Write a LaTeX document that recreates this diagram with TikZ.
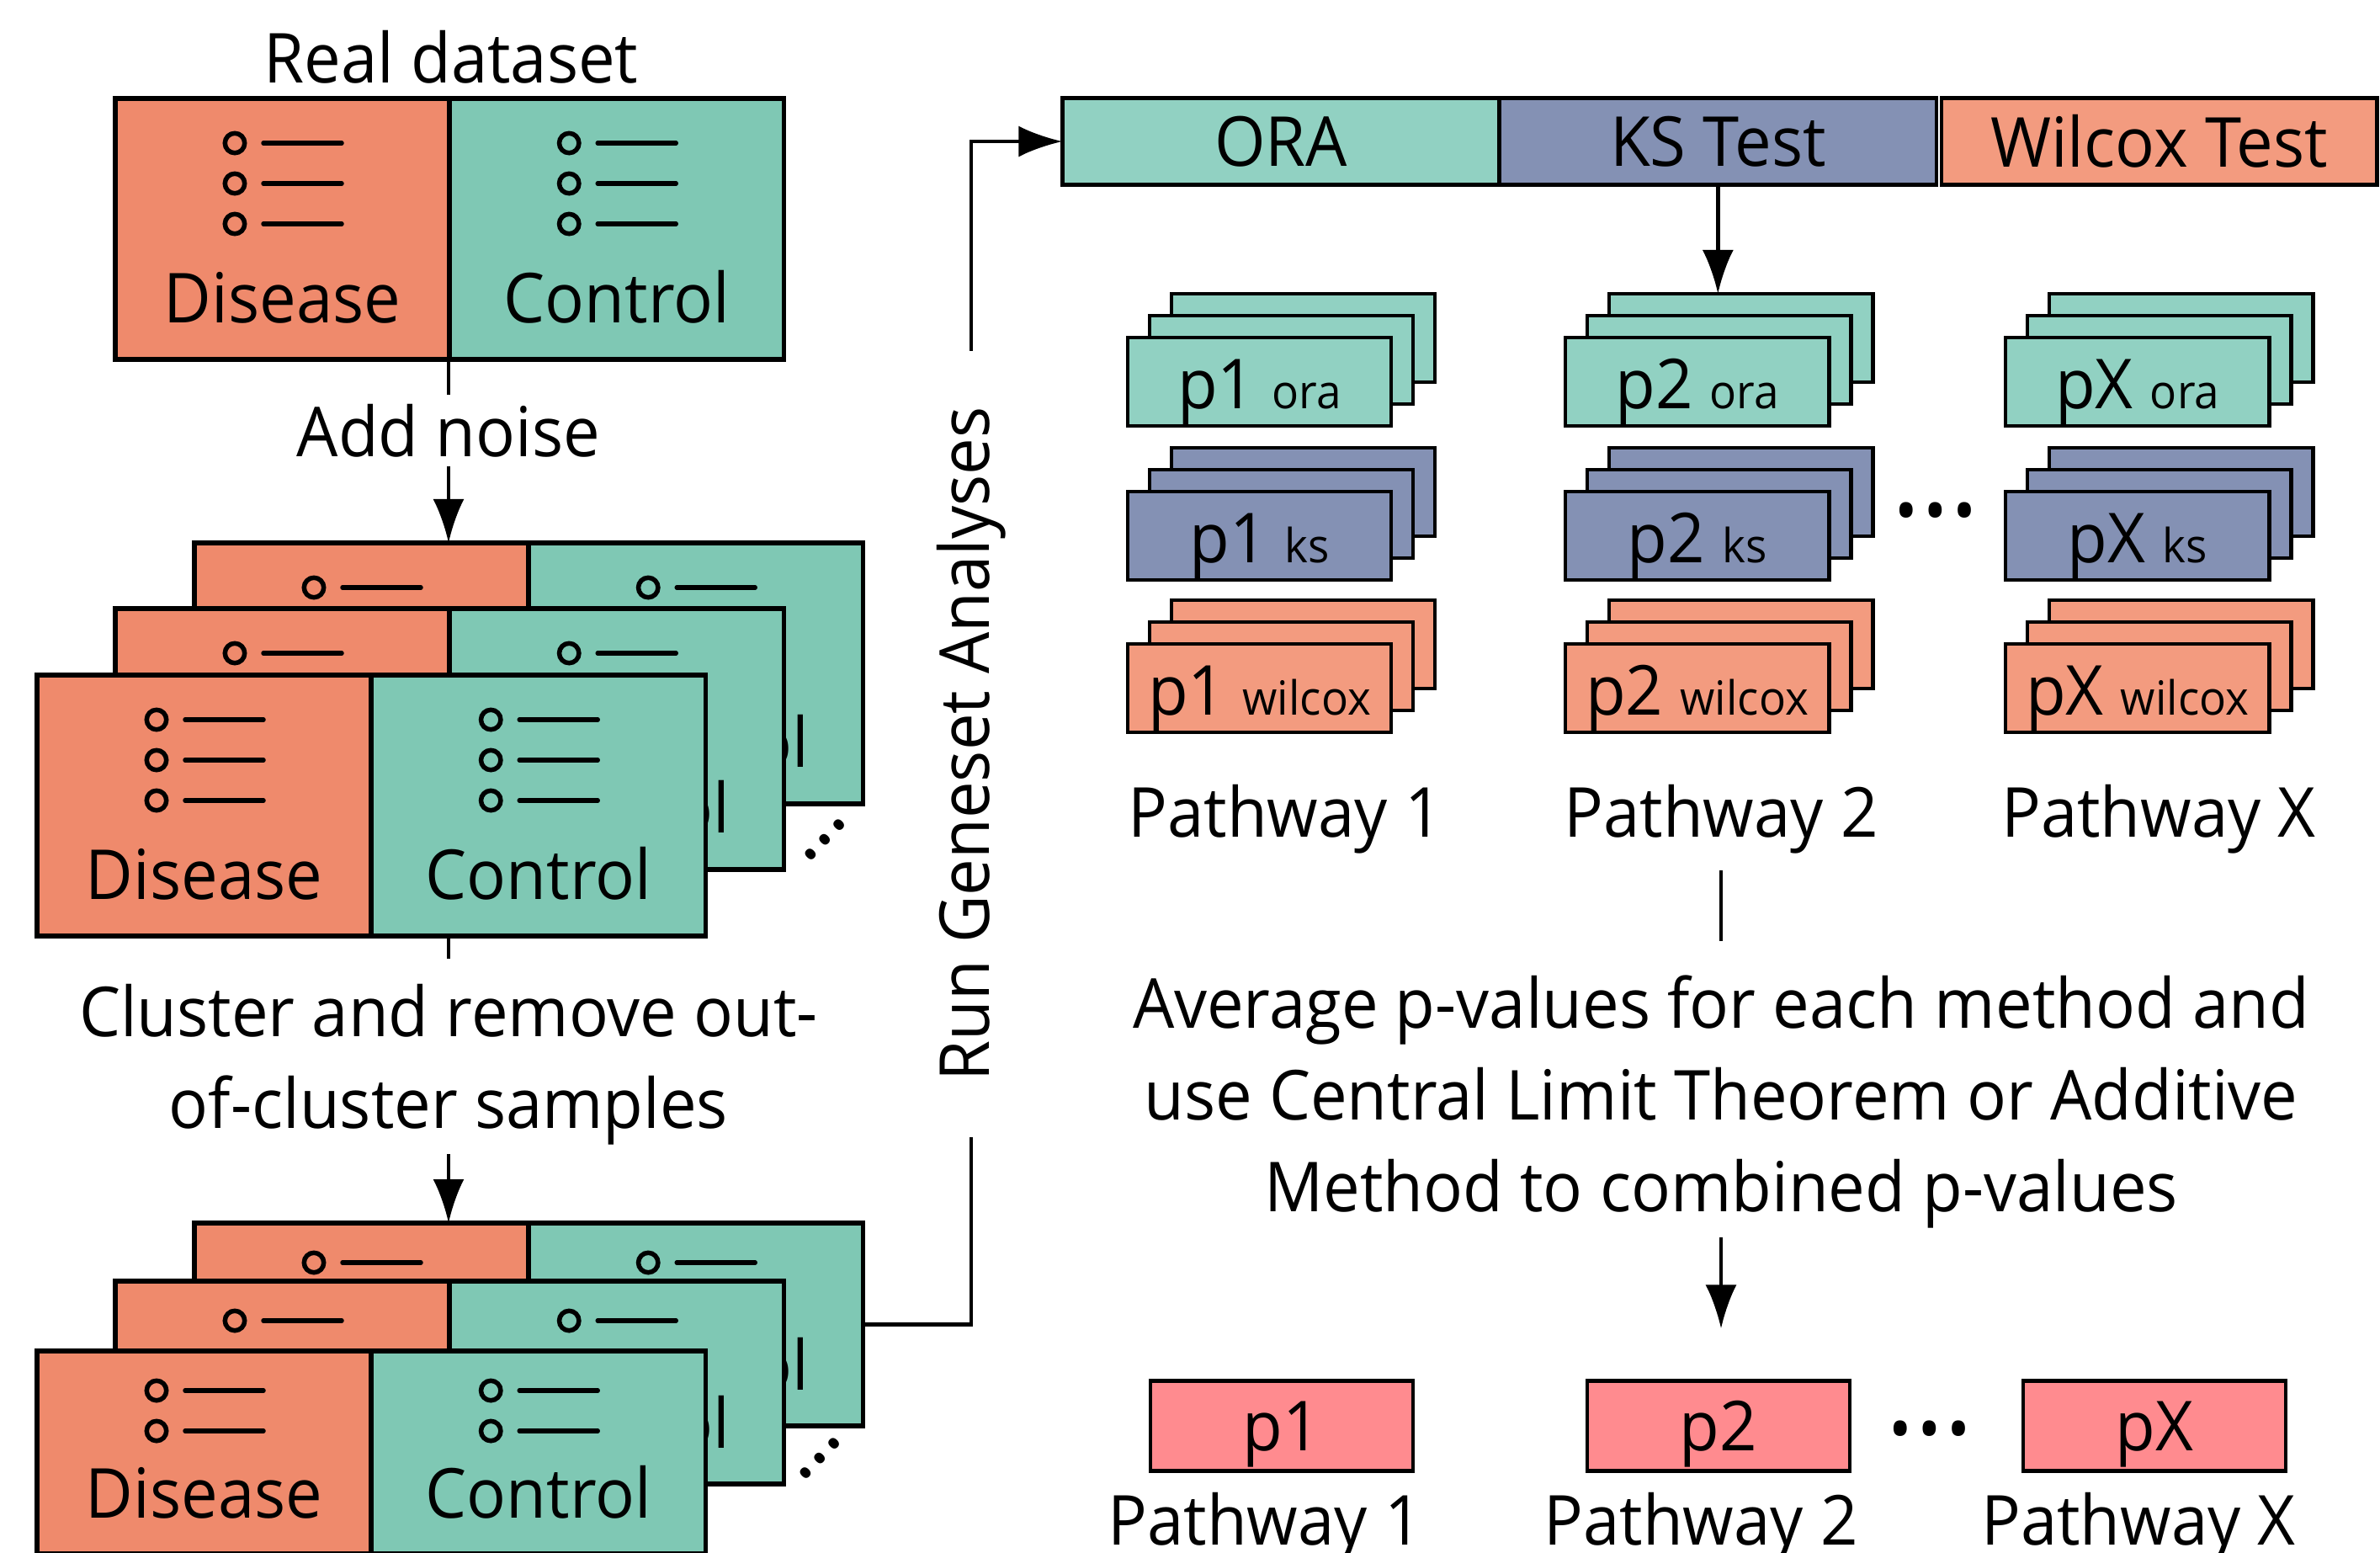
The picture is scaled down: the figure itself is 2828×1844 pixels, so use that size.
\documentclass[tikz,border=0pt]{standalone}
\usepackage{fontspec}
\setmainfont{Open Sans}[FakeStretch=0.95]
\usetikzlibrary{arrows.meta,calc,positioning}

\definecolor{disred}{HTML}{EF8A6C}
\definecolor{ctlgreen}{HTML}{7FC8B4}
\definecolor{oragreen}{HTML}{91D1C2}
\definecolor{ksblue}{HTML}{8491B4}
\definecolor{wilred}{HTML}{F39B7F}
\definecolor{finpink}{HTML}{FF8B8F}

\newcommand{\bigsz}{\fontsize{23.3pt}{31pt}\selectfont}
\newcommand{\smallsz}{\fontsize{15.9pt}{19pt}\selectfont}
\newcommand{\dotsz}{\fontsize{40pt}{40pt}\selectfont}

\tikzset{half/.style={draw, line width=1.6pt, inner sep=0pt, outer sep=0pt, minimum width=3.97cm, anchor=north west}}
\tikzset{tallbox/.style={minimum height=3.1cm, text height=2.22cm, text depth=0pt}}
\tikzset{shortbox/.style={minimum height=2.41cm, text height=1.55cm, text depth=0pt}}
\tikzset{icon/.style={line width=0.055cm, line cap=round}}
\tikzset{card/.style={draw, line width=1.3pt, inner sep=0pt, outer sep=0pt, minimum width=3.13cm, minimum height=1.05cm, anchor=north west, text height=0.63cm, text depth=0pt}}
\tikzset{bar/.style={draw, line width=1.3pt, inner sep=0pt, outer sep=0pt, minimum height=1.03cm}}
\tikzset{fin/.style={bar, minimum width=3.12cm, minimum height=1.07cm, fill=finpink, text height=0.59cm, text depth=0pt}}
\tikzset{flow/.style={line width=1.3pt}}
\tikzset{flowa/.style={flow, -{Latex[length=0.52cm,width=0.37cm]}}}

% one disease/control sheet, with its sample rows
\newcommand{\samplepair}[5]{%
  \node[half, #4, fill=disred] (#1-d) at (#2,#3) {Disease};
  \node[half, #4, fill=ctlgreen] (#1-c) at (#1-d.north east) {Control};
  \foreach \yy in {#5} {
    \draw[icon] ($(#1-d.north west)+(142,\yy)$) circle[radius=0.117cm];
    \draw[icon] ($(#1-d.north west)+(176,\yy)$) -- ++(93,0);
    \draw[icon] ($(#1-c.north west)+(142,\yy)$) circle[radius=0.117cm];
    \draw[icon] ($(#1-c.north west)+(176,\yy)$) -- ++(93,0);
  }
}
% three stacked result cards
\newcommand{\cardstack}[5]{%
  \node[card, fill=#4] (#1-3) at ({#2+52},{#3-52}) {#5};
  \node[card, fill=#4] (#1-2) at ({#2+26},{#3-26}) {#5};
  \node[card, fill=#4] (#1-1) at (#2,#3) {#5};
}

\begin{document}
\begin{tikzpicture}[x=0.01cm, y=-0.01cm, font=\bigsz]
\useasboundingbox (0,0) rectangle (2828,1844);

% left column
\node[anchor=base] (real) at (536,98) {Real dataset};
\samplepair{raw}{137}{117}{tallbox}{53,101,149}
\node[anchor=base, inner sep=0.1cm] (noise) at (533,542) {Add noise};

\samplepair{m3}{231}{645}{tallbox}{53,101,149}
\samplepair{m2}{137}{723}{tallbox}{53,101,149}
\samplepair{m1}{44}{802}{tallbox}{53,101,149}
\node[rotate=46, font=\fontsize{28pt}{28pt}\selectfont] (mdots) at (980,998) {…};

\node[align=center, inner sep=0.1cm] (clus) at (533,1265) {Cluster and remove out-\\of-cluster samples};

\samplepair{b3}{231}{1453}{shortbox}{47,95}
\samplepair{b2}{137}{1522}{shortbox}{47,95}
\samplepair{b1}{44}{1605}{shortbox}{47,95}
\node[rotate=46, font=\fontsize{28pt}{28pt}\selectfont] (bdots) at (974,1733) {…};

\node[rotate=90, inner xsep=0.66cm, inner ysep=0pt] (run) at (1154,884) {Run Geneset Analyses};

% right column
\node[bar, minimum width=5.19cm, fill=oragreen] (ora) at (1522,168) {ORA};
\node[bar, minimum width=5.19cm, fill=ksblue, right=0pt of ora] (ks) {KS Test};
\node[bar, minimum width=5.17cm, fill=wilred, right=0.06cm of ks] (wil) {Wilcox Test};

\cardstack{c1o}{1340}{401}{oragreen}{p1 {\smallsz ora}}
\cardstack{c1k}{1340}{584}{ksblue}{p1 {\smallsz ks}}
\cardstack{c1w}{1340}{765}{wilred}{p1 {\smallsz wilcox}}
\cardstack{c2o}{1860}{401}{oragreen}{p2 {\smallsz ora}}
\cardstack{c2k}{1860}{584}{ksblue}{p2 {\smallsz ks}}
\cardstack{c2w}{1860}{765}{wilred}{p2 {\smallsz wilcox}}
\cardstack{cxo}{2383}{401}{oragreen}{pX {\smallsz ora}}
\cardstack{cxk}{2383}{584}{ksblue}{pX {\smallsz ks}}
\cardstack{cxw}{2383}{765}{wilred}{pX {\smallsz wilcox}}
\node[font=\dotsz] (kdots) at (2300,606) {…};

\node[anchor=base] (pw1) at (1527,994) {Pathway 1};
\node[anchor=base, inner sep=0.2cm] (pw2) at (2045,994) {Pathway 2};
\node[anchor=base] (pwx) at (2565,994) {Pathway X};

\node[align=center, inner sep=0.1cm] (avg) at (2045,1309) {Average p-values for each method and\\use Central Limit Theorem or Additive\\Method to combined p-values};

\node[fin] (f1) at (1523,1694) {p1};
\node[fin] (f2) at (2042,1694) {p2};
\node[fin] (fx) at (2560,1694) {pX};
\node[font=\dotsz] (fdots) at (2293,1697) {…};
\node[anchor=base] (fl1) at (1503,1835) {Pathway 1};
\node[anchor=base] (fl2) at (2021,1835) {Pathway 2};
\node[anchor=base] (flx) at (2541,1835) {Pathway X};

% connectors
\draw[flow] (noise |- raw-d.south) -- (noise);
\draw[flowa] (noise) -- (noise |- m3-d.north);
\draw[flow, shorten >=0.2cm] (noise |- m1-c.south) -- (clus);
\draw[flowa] (clus) -- (clus |- b3-d.north);
\draw[flow] (b3-c.east) -| (run.west);
\draw[flowa] (run.east) |- (ora.west);
\draw[flowa] (ks.south) -- (ks.south |- c2o-3.north);
\draw[flow, shorten >=0.3cm] (pw2) -- (avg);
\draw[flowa, shorten >=0.62cm] (avg) -- (avg |- f2.north);
\end{tikzpicture}
\end{document}
